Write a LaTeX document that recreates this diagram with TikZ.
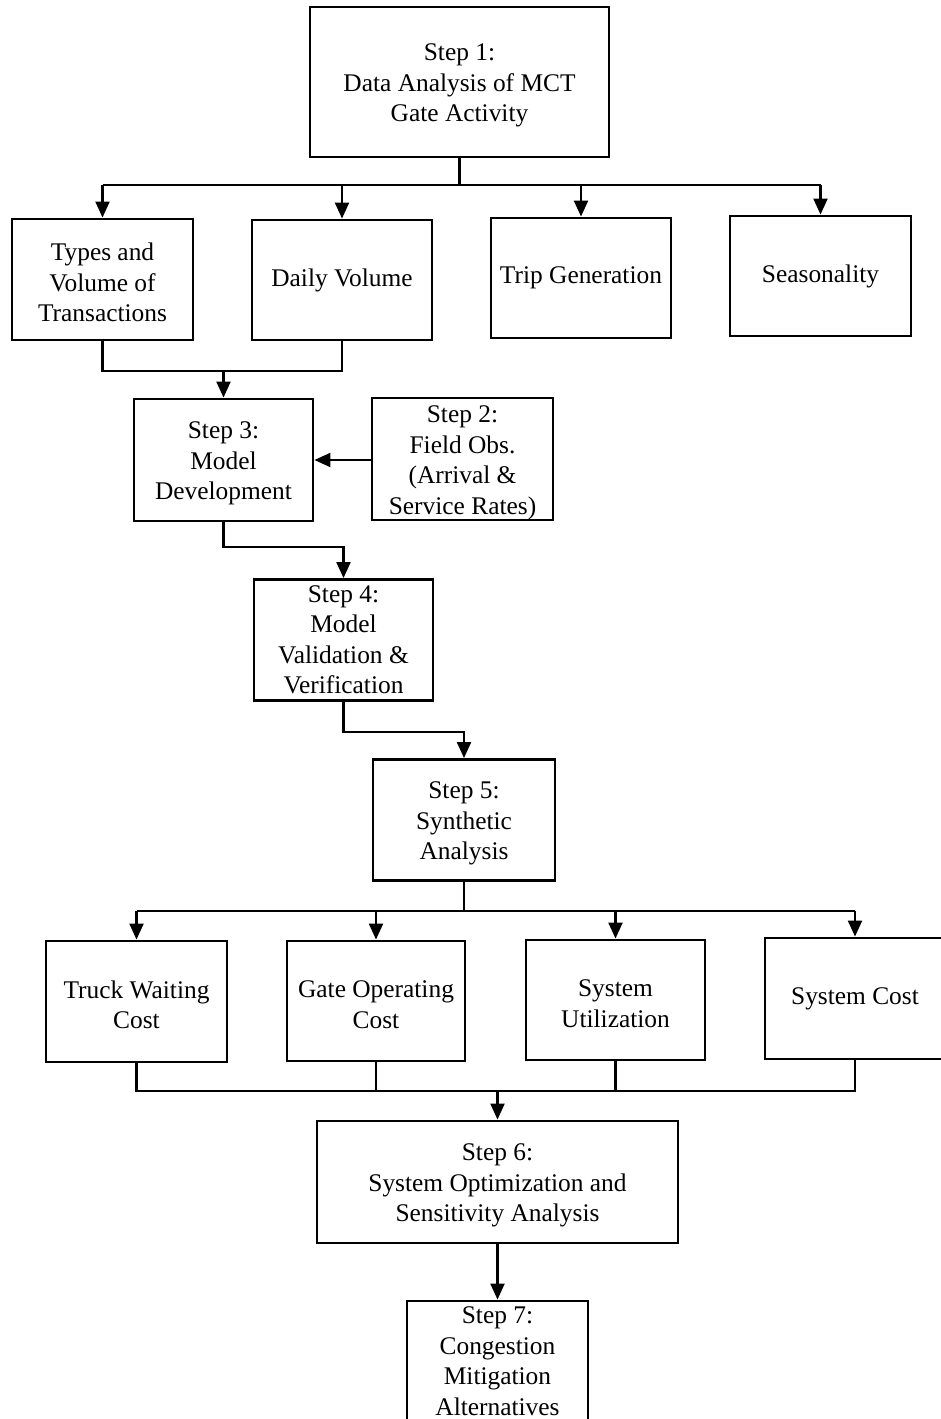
\documentclass[tikz,border=0pt]{standalone}
\usepackage{fontspec}
\setmainfont{Liberation Serif}
\usetikzlibrary{arrows.meta}
\newcommand{\topstrut}{\rule{0pt}{24pt}}
\begin{document}
\begin{tikzpicture}[x=1pt,y=-1pt,
  box/.style={draw=black, line width=2.9pt, align=center, inner sep=0pt,
    font=\fontsize{25.4}{30.5}\selectfont},
  conn/.style={line width=2.2pt},
  arr/.style={line width=2.2pt, -{Triangle[length=16pt,width=14pt]}}]
\useasboundingbox (0,0) rectangle (940,1419);
% nodes
\node[box, minimum width=299pt, minimum height=150pt] (s1) at (459.5,82) {\topstrut Step 1:\\Data Analysis of MCT\\Gate Activity};
\node[box, minimum width=181pt, minimum height=121pt] (t1) at (102.5,279.5) {\topstrut Types and\\Volume of\\Transactions};
\node[box, minimum width=180pt, minimum height=120pt] (t2) at (342,280) {Daily Volume};
\node[box, minimum width=180pt, minimum height=120pt] (t3) at (581,278) {Trip Generation};
\node[box, minimum width=181pt, minimum height=120pt] (t4) at (820.5,276) {Seasonality};
\node[box, minimum width=179pt, minimum height=122pt] (s3) at (223.5,460) {\topstrut Step 3:\\Model\\Development};
\node[box, minimum width=181pt, minimum height=122pt] (s2) at (462.5,459) {\topstrut Step 2:\\Field Obs.\\(Arrival \&\\Service Rates)};
\node[box, minimum width=179pt, minimum height=121pt] (s4) at (343.5,640) {Step 4:\\Model\\Validation \&\\Verification};
\node[box, minimum width=182pt, minimum height=121pt] (s5) at (464,820) {\topstrut Step 5:\\Synthetic\\Analysis};
\node[box, minimum width=181pt, minimum height=121pt] (b1) at (136.5,1001.5) {\topstrut Truck Waiting\\Cost};
\node[box, minimum width=178pt, minimum height=120pt] (b2) at (376,1001) {\topstrut Gate Operating\\Cost};
\node[box, minimum width=179pt, minimum height=120pt] (b3) at (615.5,1000) {\topstrut System\\Utilization};
\node[box, minimum width=180pt, minimum height=121pt] (b4) at (855,998.5) {System Cost};
\node[box, minimum width=361pt, minimum height=122pt] (s6) at (497.5,1182) {\topstrut Step 6:\\System Optimization and\\Sensitivity Analysis};
\node[box, minimum width=181pt, minimum height=120pt] (s7) at (497.5,1361) {Step 7:\\Congestion\\Mitigation\\Alternatives};
% helper coordinates
\coordinate (bus1) at (0,185);
\coordinate (j1) at (223.5,371);
\coordinate (k1) at (0,547);
\coordinate (k2) at (0,732);
\coordinate (bus2) at (0,911);
\coordinate (j2) at (497.5,1091);
% connectors
\draw[conn] (s1.south) -- (s1.south |- bus1);
\draw[conn] (t1.north |- bus1) -- (t4.north |- bus1);
\foreach \n in {t1,t2,t3,t4} \draw[arr] (\n.north |- bus1) -- (\n.north);
\draw[conn] (t1.south) |- (j1) -| (t2.south);
\draw[arr] (j1) -- (s3.north);
\draw[arr] (s2.west |- s3.east) -- (s3.east);
\draw[arr] (s3.south) |- (s4.north |- k1) -- (s4.north);
\draw[arr] (s4.south) |- (s5.north |- k2) -- (s5.north);
\draw[conn] (s5.south) -- (s5.south |- bus2);
\draw[conn] (b1.north |- bus2) -- (b4.north |- bus2);
\foreach \n in {b1,b2,b3,b4} \draw[arr] (\n.north |- bus2) -- (\n.north);
\draw[conn] (b1.south) |- (j2) -| (b4.south);
\draw[conn] (b2.south) -- (b2.south |- j2);
\draw[conn] (b3.south) -- (b3.south |- j2);
\draw[arr] (j2) -- (s6.north);
\draw[arr] (s6.south) -- (s7.north);
\end{tikzpicture}
\end{document}
